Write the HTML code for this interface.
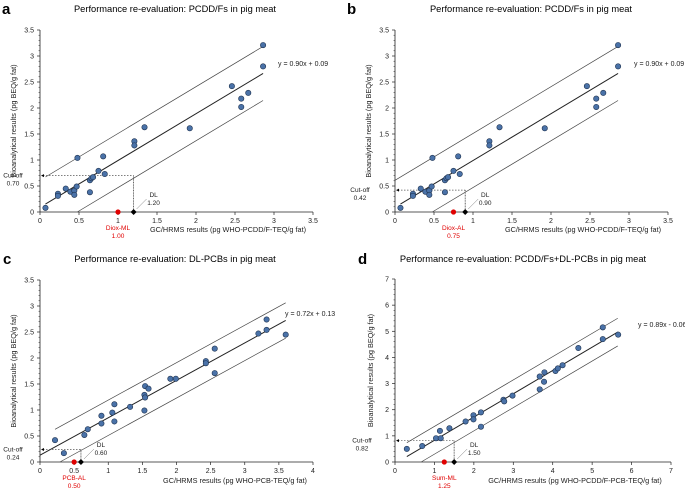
<!DOCTYPE html>
<html><head><meta charset="utf-8"><style>
body{margin:0;background:#fff;}
svg{display:block;font-family:"Liberation Sans",Arial,sans-serif;}
</style></head><body>
<svg id="chart" width="685" height="491" viewBox="0 0 685 491" xmlns="http://www.w3.org/2000/svg"></svg>
<script>
// Panel a / b data (same points)
const pcddX = [0.07,0.23,0.23,0.33,0.39,0.44,0.44,0.47,0.48,0.64,0.64,0.66,0.68,0.75,0.81,0.83,1.21,1.21,1.34,1.92,2.46,2.58,2.58,2.67,2.86,2.86];
const pcddY = [0.08,0.35,0.31,0.45,0.39,0.41,0.33,0.49,1.04,0.38,0.61,0.65,0.67,0.79,1.07,0.73,1.36,1.28,1.63,1.61,2.42,2.18,2.02,2.29,3.21,2.80];
// Panel c data
const pcbX = [0.22,0.35,0.65,0.70,0.90,0.90,1.06,1.09,1.09,1.32,1.53,1.53,1.54,1.54,1.59,1.91,1.99,2.43,2.43,2.56,2.56,3.20,3.32,3.32,3.60];
const pcbY = [0.42,0.17,0.52,0.63,0.89,0.74,0.95,1.11,0.78,1.06,0.99,1.29,1.24,1.46,1.41,1.60,1.60,1.94,1.90,2.18,1.71,2.47,2.54,2.74,2.45];
// Panel d data
const sumX = [0.30,0.69,1.04,1.16,1.14,1.38,1.79,1.99,1.99,2.18,2.18,2.75,2.77,2.98,3.67,3.67,3.79,3.78,4.07,4.13,4.25,4.65,5.27,5.27,5.66];
const sumY = [0.50,0.61,0.91,0.91,1.19,1.29,1.55,1.79,1.63,1.90,1.35,2.38,2.32,2.54,3.27,2.78,3.43,3.07,3.48,3.58,3.70,4.36,5.15,4.70,4.87];
// Regression params [slope, intercept, band offset, xStart, xEnd]
const regA = [0.90, 0.09, 0.52, 0.07, 2.86];
const regC = [0.72, 0.13, 0.34, 0.00, 3.60];
const regD = [0.89, -0.06, 0.53, 0.30, 5.65];
// Thresholds [cutoff, DL, ML]
const thrA = [0.70, 1.20, 1.00];
const thrB = [0.42, 0.90, 0.75];
const thrC = [0.24, 0.60, 0.50];
const thrD = [0.82, 1.50, 1.25];
const ticksA = ['0','0.5','1','1.5','2','2.5','3','3.5'];
const ticksC = ['0','0.5','1','1.5','2','2.5','3','3.5','4'];
const ticksD = ['0','1','2','3','4','5','6','7'];

const svg = document.getElementById('chart');
const NS = 'http://www.w3.org/2000/svg';
function el(tag, attrs, parent){const e=document.createElementNS(NS,tag);for(const k in attrs)e.setAttribute(k,attrs[k]);(parent||svg).appendChild(e);return e;}
function txt(s, attrs, parent){const e=el('text',attrs,parent);e.textContent=s;return e;}

function panel(p){
  const g = el('g',{});
  
  
  const xs = v => p.x0 + (v/p.xmax)*(p.x1-p.x0);
  const ys = v => p.y0 - (v/p.ymax)*(p.y0-p.y1);
  let t;
  t = txt(p.letter,{x:p.lx,y:p.ty+2,'font-size':15,'font-weight':'bold'},g);
   
  t = txt(p.title,{x:p.tx,y:p.ty,'font-size':9.3,'text-anchor':'middle'},g);
   
  el('line',{x1:p.x0,y1:p.y0,x2:p.x1,y2:p.y0,stroke:'#222','stroke-width':0.8},g);
  el('line',{x1:p.x0,y1:p.y0,x2:p.x0,y2:p.y1,stroke:'#222','stroke-width':0.8},g);
  const ticks = p.ticksX;
  const stepX = p.xmax/(ticks.length-1);
  ticks.forEach((s,i)=>{const x=xs(i*stepX);
    el('line',{x1:x,y1:p.y0,x2:x,y2:p.y0+3,stroke:'#222','stroke-width':0.7},g);
    t=txt(s,{x:x,y:p.y0+11,'font-size':7,'text-anchor':'middle',fill:'#222'},g);
     });
  const ticksY = p.ticksY; const stepY = p.ymax/(ticksY.length-1);
  ticksY.forEach((s,i)=>{const y=ys(i*stepY);
    el('line',{x1:p.x0-3,y1:y,x2:p.x0,y2:y,stroke:'#222','stroke-width':0.7},g);
    if(i<ticksY.length-1) for(let k=1;k<5;k++){const ym=ys(i*stepY+k*stepY/5);el('line',{x1:p.x0-1.5,y1:ym,x2:p.x0,y2:ym,stroke:'#222','stroke-width':0.5},g);}
    t=txt(s,{x:p.x0-6,y:y+2.5,'font-size':7,'text-anchor':'end',fill:'#222'},g);
     });
  t=txt(p.xtitle,{x:p.xtx,y:p.xty,'font-size':7.3,'text-anchor':'middle',fill:'#222'},g);
   
  t=txt('Bioanalytical results (pg BEQ/g fat)',{x:0,y:0,'font-size':7.3,'text-anchor':'middle',fill:'#222',transform:`translate(${p.ytx},${(p.y0+p.y1)/2}) rotate(-90)`},g);
   
  const r = p.reg;
  const f = x => r[0]*x + r[1];
  let l = el('line',{x1:xs(r[3]),y1:ys(f(r[3])),x2:xs(r[4]),y2:ys(f(r[4])),stroke:'#222','stroke-width':1},g);
   
  const us = p.upStart, ls = (-r[1]+r[2])/r[0];
  l = el('line',{x1:xs(us),y1:ys(f(us)+r[2]),x2:xs(r[4]),y2:ys(f(r[4])+r[2]),stroke:'#444','stroke-width':0.7},g);
   
  l = el('line',{x1:xs(ls),y1:ys(0),x2:xs(r[4]),y2:ys(f(r[4])-r[2]),stroke:'#444','stroke-width':0.7},g);
   
  t=txt(p.eq,{x:p.eqx,y:p.eqy,'font-size':7,fill:'#222'},g);
   
  const [co, dl, ml] = p.thr;
  el('line',{x1:p.x0+3,y1:ys(co),x2:xs(dl),y2:ys(co),stroke:'#555','stroke-width':0.7,'stroke-dasharray':'1.5,1.5'},g);
  el('path',{d:`M${p.x0+1},${ys(co)} l3,-1.5 v3 z`,fill:'#000'},g);
  el('line',{x1:xs(dl),y1:ys(co),x2:xs(dl),y2:ys(0),stroke:'#444','stroke-width':0.8,'stroke-dasharray':'1,0.6'},g);
  t=txt('Cut-off',{x:p.cox,y:ys(co)+2,'font-size':6.5,'text-anchor':'middle',fill:'#222'},g);
   
  t=txt(co.toFixed(2),{x:p.cox,y:ys(co)+10,'font-size':6.5,'text-anchor':'middle',fill:'#222'},g);
   
  el('line',{x1:xs(dl)+3,y1:ys(0)-3,x2:xs(dl)+13,y2:ys(0)-13,stroke:'#777','stroke-width':0.5},g);
  t=txt('DL',{x:xs(dl)+20,y:ys(0)-15,'font-size':6.5,'text-anchor':'middle',fill:'#222'},g);
   
  t=txt(dl.toFixed(2),{x:xs(dl)+20,y:ys(0)-7,'font-size':6.5,'text-anchor':'middle',fill:'#222'},g);
   
  let m = el('circle',{cx:xs(ml),cy:ys(0),r:2.6,fill:'#e00000'},g);
   
  m = el('path',{d:`M${xs(dl)},${ys(0)-3} l3,3 l-3,3 l-3,-3 z`,fill:'#000'},g);
   
  t=txt(p.mlName,{x:xs(ml),y:p.y0+18,'font-size':6.5,'text-anchor':'middle',fill:'#e00000'},g);
   
  t=txt(ml.toFixed(2),{x:xs(ml),y:p.y0+26,'font-size':6.5,'text-anchor':'middle',fill:'#e00000'},g);
   
  p.X.forEach((v,i)=>{
    const c = el('circle',{cx:xs(v),cy:ys(p.Y[i]),r:2.7,fill:'#4a72a8',stroke:'#1f3350','stroke-width':0.6},g);
    
    
  });
}

panel({letter:'a',lx:2,title:'Performance re-evaluation: PCDD/Fs in pig meat',tx:175,ty:12,
  x0:40,x1:313,y0:212,y1:30,xmax:3.5,ymax:3.5,ticksX:ticksA,ticksY:ticksA,
  xtitle:'GC/HRMS results (pg WHO-PCDD/F-TEQ/g fat)',xtx:228,xty:232,ytx:16,
  reg:regA,upStart:0.07,eq:'y = 0.90x + 0.09',eqx:278,eqy:66,thr:thrA,cox:13,mlName:'Diox-ML',X:pcddX,Y:pcddY});
panel({letter:'b',lx:347,title:'Performance re-evaluation: PCDD/Fs in pig meat',tx:531,ty:12,
  x0:395,x1:668,y0:212,y1:30,xmax:3.5,ymax:3.5,ticksX:ticksA,ticksY:ticksA,
  xtitle:'GC/HRMS results (pg WHO-PCDD/F-TEQ/g fat)',xtx:583,xty:232,ytx:371,
  reg:regA,upStart:0.0,eq:'y = 0.90x + 0.09',eqx:634,eqy:66,thr:thrB,cox:360,mlName:'Diox-AL',X:pcddX,Y:pcddY});
panel({letter:'c',lx:3,title:'Performance re-evaluation: DL-PCBs in pig meat',tx:175,ty:262,
  x0:40,x1:313,y0:462,y1:280,xmax:4,ymax:3.5,ticksX:ticksC,ticksY:ticksA,
  xtitle:'GC/HRMS results (pg WHO-PCB-TEQ/g fat)',xtx:235,xty:483,ytx:16,
  reg:regC,upStart:0.22,eq:'y = 0.72x + 0.13',eqx:285,eqy:316,thr:thrC,cox:13,mlName:'PCB-AL',X:pcbX,Y:pcbY});
panel({letter:'d',lx:358,title:'Performance re-evaluation: PCDD/Fs+DL-PCBs in pig meat',tx:523,ty:262,
  x0:395,x1:671,y0:462,y1:279,xmax:7,ymax:7,ticksX:ticksD,ticksY:ticksD,
  xtitle:'GC/HRMS results (pg WHO-PCDD/F-PCB-TEQ/g fat)',xtx:575,xty:483,ytx:373,
  reg:regD,upStart:0.3,eq:'y = 0.89x - 0.06',eqx:638,eqy:327,thr:thrD,cox:362,mlName:'Sum-ML',X:sumX,Y:sumY});
</script>
</body></html>
